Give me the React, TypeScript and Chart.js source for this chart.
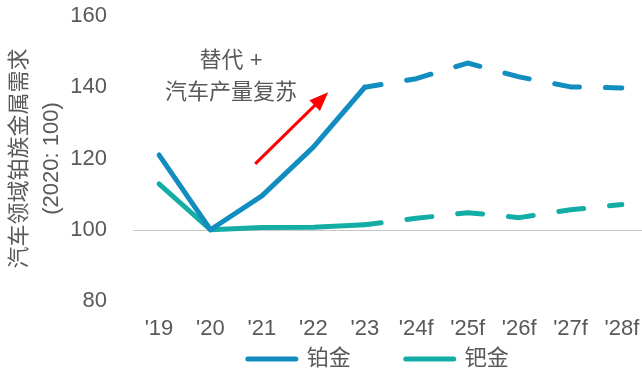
import React, { useEffect, useRef } from 'react';
import { Chart, registerables } from 'chart.js';

Chart.register(...registerables);

const CATEGORIES = ["'19", "'20", "'21", "'22", "'23", "'24f", "'25f", "'26f", "'27f", "'28f"];
const PLATINUM = [121, 100, 109.5, 123.2, 140, 142.4, 146.8, 142.9, 140.1, 139.8];
const PALLADIUM = [112.9, 100, 100.6, 100.7, 101.4, 103.2, 104.8, 103.4, 105.6, 107.1];
const SERIES_NAMES = ['铂金', '钯金'];
const Y_MIN = 80;
const Y_MAX = 160;
const Y_STEP = 20;
const FORECAST_START_INDEX = 4;
const BASELINE_VALUE = 100;
const Y_TITLE = ['汽车领域铂族金属需求', '(2020: 100)'];
const ANNOTATION_LINES = ['替代 +', '汽车产量复苏'];
const ANNOTATION_X = 1.4;
const ANNOTATION_Y = [147.4, 138.5];
const ARROW_FROM = [1.87, 118.5];
const ARROW_TO = [3.29, 138.6];

const C_PLAT = '#118dbf';
const C_PALL = '#14ada6';
const TEXT = '#595959';
const FONT = "'Liberation Sans', 'Noto Sans CJK SC', Arial, sans-serif";

const overlayPlugin = {
  id: 'overlay',
  beforeDatasetsDraw(chart: any) {
    const { ctx, scales } = chart;
    const y = Math.round(scales.y.getPixelForValue(BASELINE_VALUE)) + 0.5;
    ctx.save();
    ctx.strokeStyle = '#c8c8c8';
    ctx.lineWidth = 1;
    ctx.beginPath();
    ctx.moveTo(scales.x.left - 26, y);
    ctx.lineTo(chart.width, y);
    ctx.stroke();
    ctx.restore();
  },
  afterDatasetsDraw(chart: any) {
    const { ctx, scales } = chart;
    const xs = scales.x, ys = scales.y;
    ctx.save();
    ctx.fillStyle = TEXT;
    ctx.font = `22px ${FONT}`;
    ctx.textAlign = 'center';
    ctx.textBaseline = 'middle';
    ANNOTATION_LINES.forEach((t, i) => {
      ctx.fillText(t, xs.getPixelForValue(ANNOTATION_X), ys.getPixelForValue(ANNOTATION_Y[i]));
    });
    const x1 = xs.getPixelForValue(ARROW_FROM[0]);
    const y1 = ys.getPixelForValue(ARROW_FROM[1]);
    const x2 = xs.getPixelForValue(ARROW_TO[0]);
    const y2 = ys.getPixelForValue(ARROW_TO[1]);
    const ang = Math.atan2(y2 - y1, x2 - x1);
    const headLen = 19;
    const headHalf = 7.5;
    const bx = x2 - Math.cos(ang) * headLen;
    const by = y2 - Math.sin(ang) * headLen;
    ctx.strokeStyle = '#ff0000';
    ctx.fillStyle = '#ff0000';
    ctx.lineWidth = 3;
    ctx.beginPath();
    ctx.moveTo(x1, y1);
    ctx.lineTo(bx + Math.cos(ang) * 2, by + Math.sin(ang) * 2);
    ctx.stroke();
    ctx.beginPath();
    ctx.moveTo(x2, y2);
    ctx.lineTo(bx + Math.sin(ang) * headHalf, by - Math.cos(ang) * headHalf);
    ctx.lineTo(bx - Math.sin(ang) * headHalf, by + Math.cos(ang) * headHalf);
    ctx.closePath();
    ctx.fill();
    ctx.restore();
  },
};

export default function App() {
  const ref = useRef<HTMLCanvasElement>(null);
  useEffect(() => {
    document.body.style.margin = '0';
    const canvas = ref.current;
    if (!canvas) return;
    const dash = (ctx: any) => (ctx.p0DataIndex >= FORECAST_START_INDEX ? [25, 26] : undefined);
    const dashOffset = (ctx: any) => (ctx.p0DataIndex >= FORECAST_START_INDEX ? 8.5 : undefined);
    const makeSet = (label: string, data: number[], color: string) => ({
      label,
      data,
      borderColor: color,
      backgroundColor: color,
      borderWidth: 5,
      borderCapStyle: 'round',
      borderJoinStyle: 'round',
      pointRadius: 0,
      tension: 0,
      segment: { borderDash: dash, borderDashOffset: dashOffset },
    });
    const chart = new Chart(canvas, {
      type: 'line',
      data: {
        labels: CATEGORIES,
        datasets: [
          makeSet(SERIES_NAMES[0], PLATINUM, C_PLAT),
          makeSet(SERIES_NAMES[1], PALLADIUM, C_PALL),
        ],
      },
      options: {
        animation: false,
        responsive: false,
        devicePixelRatio: 1,
        layout: { padding: { top: 16, right: 20, bottom: 0, left: 4 } },
        scales: {
          x: {
            type: 'category',
            offset: false,
            grid: { display: false, drawTicks: false },
            border: { display: false },
            ticks: { color: TEXT, font: { size: 22, family: FONT }, padding: 14.6, maxRotation: 0, autoSkip: false },
            afterFit: (s: any) => {
              s.height = 41;
              s.paddingLeft = 0;
              s.paddingRight = 0;
            },
          },
          y: {
            min: Y_MIN,
            max: Y_MAX,
            grid: { display: false, drawTicks: false },
            border: { display: false },
            ticks: { stepSize: Y_STEP, color: TEXT, font: { size: 22, family: FONT }, padding: 52 },
            title: {
              display: true,
              text: Y_TITLE,
              color: TEXT,
              font: { size: 22, family: FONT, lineHeight: 1.45 },
              padding: { top: 0, bottom: 2.5 },
            },
            afterFit: (s: any) => {
              s.width = 155;
              s.paddingTop = 0;
              s.paddingBottom = 0;
            },
          },
        },
        plugins: {
          tooltip: { enabled: false },
          legend: {
            position: 'bottom',
            fullSize: false,
            maxHeight: 34,
            labels: {
              color: TEXT,
              font: { size: 22, family: FONT },
              usePointStyle: true,
              pointStyle: 'line',
              pointStyleWidth: 48,
              padding: 6,
              generateLabels: (ch: any) => {
                const items = Chart.defaults.plugins.legend.labels.generateLabels(ch);
                return items.map((it: any, i: number) => ({
                  ...it,
                  text: i === 0 ? it.text + '        ' : it.text + '    ',
                  lineWidth: 5,
                  lineCap: 'round',
                  lineDash: [],
                  pointStyle: 'line',
                }));
              },
            },
          },
        },
      },
      plugins: [overlayPlugin],
    } as any);
    return () => chart.destroy();
  }, []);
  return (
    <div style={{ position: 'absolute', left: 0, top: 0, width: 642, height: 376 }}>
      <canvas ref={ref} width={642} height={376} />
    </div>
  );
}
